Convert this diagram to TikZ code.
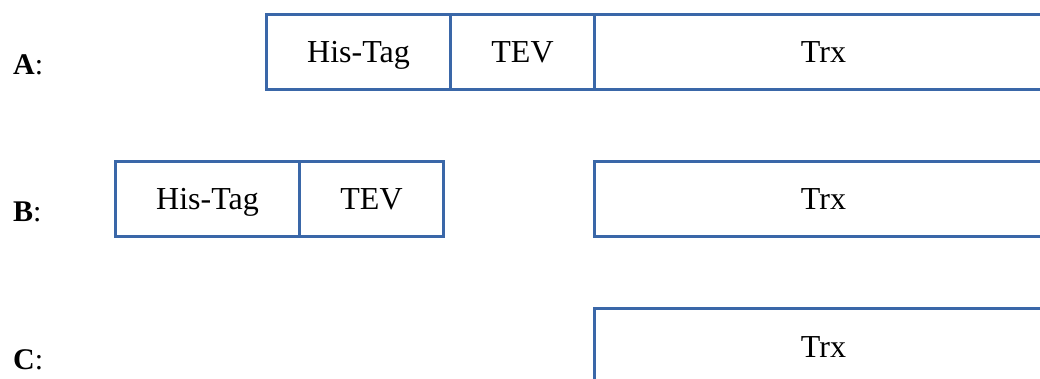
\documentclass[tikz,border=0pt]{standalone}
\usepackage{fontspec}
\setmainfont{Liberation Serif}
\definecolor{boxblue}{RGB}{58,103,168}
\begin{document}
\begin{tikzpicture}[x=1pt,y=-1pt,
  seg/.style={draw=boxblue, line width=3pt, rectangle, inner sep=0pt, anchor=north west,
    minimum height=75pt, text height=22pt, text depth=0pt,
    font=\fontsize{32}{36}\selectfont, text=black},
  lab/.style={anchor=base west, inner sep=0pt, font=\fontsize{30}{36}\selectfont}]
\useasboundingbox (0,0) rectangle (1040,379);
\clip (0,0) rectangle (1040,379);
% row A
\node[seg, minimum width=184pt] (aHis) at (265,13) {His-Tag};
\node[seg, minimum width=144pt] (aTev) at (449,13) {TEV};
\node[seg, minimum width=458pt] (aTrx) at (593,13) {Trx};
% row B
\node[seg, minimum width=184pt] (bHis) at (114,160) {His-Tag};
\node[seg, minimum width=144pt] (bTev) at (298,160) {TEV};
\node[seg, minimum width=458pt] (bTrx) at (593,160) {Trx};
% row C
\node[seg, minimum width=458pt] (cTrx) at (593,307) {Trx};
% labels
\node[lab] (la) at (13,75) {\textbf{A}:};
\node[lab] (lb) at (13,222) {\textbf{B}:};
\node[lab] (lc) at (13,369) {\textbf{C}:};
\end{tikzpicture}
\end{document}
